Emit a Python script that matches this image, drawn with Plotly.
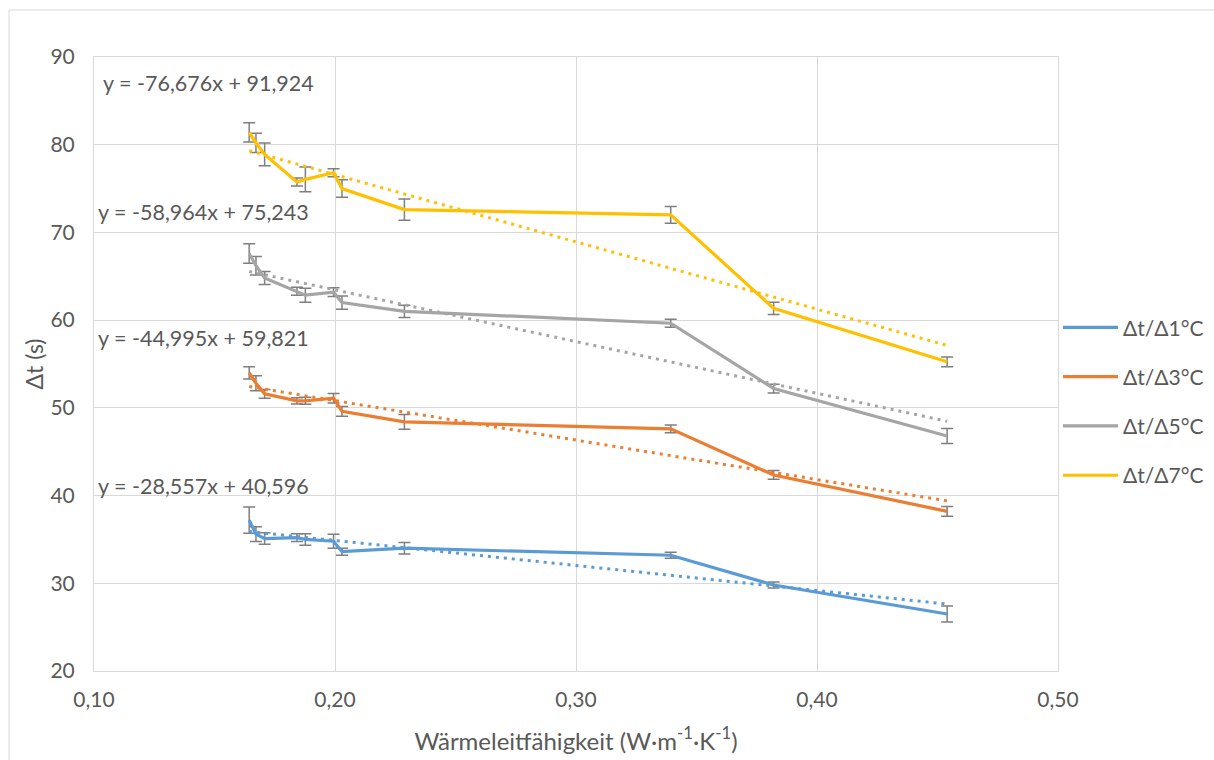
import plotly.graph_objects as go

# ---------------- data ----------------
conductivity = [0.1644, 0.1672, 0.1708, 0.1842, 0.1877, 0.1994, 0.2029, 0.2288, 0.3393, 0.3820, 0.4540]

series_names = ["Δt/Δ1°C", "Δt/Δ3°C", "Δt/Δ5°C", "Δt/Δ7°C"]

dt_1 = [37.2, 35.6, 35.1, 35.2, 35.0, 34.8, 33.6, 34.0, 33.2, 29.8, 26.5]
err_1 = [1.5, 0.85, 0.65, 0.45, 0.65, 0.8, 0.4, 0.65, 0.35, 0.35, 0.9]

dt_3 = [54.0, 52.8, 51.6, 50.8, 50.8, 51.1, 49.6, 48.4, 47.6, 42.35, 38.2]
err_3 = [0.7, 0.85, 0.5, 0.35, 0.4, 0.55, 0.55, 0.85, 0.45, 0.5, 0.55]

dt_5 = [67.6, 66.2, 64.8, 63.3, 62.85, 63.2, 62.0, 61.0, 59.65, 52.2, 46.8]
err_5 = [1.1, 1.05, 0.75, 0.45, 0.8, 0.5, 0.75, 0.7, 0.45, 0.5, 0.85]

dt_7 = [81.4, 80.2, 78.9, 75.75, 76.05, 76.8, 75.0, 72.6, 72.0, 61.35, 55.25]
err_7 = [1.1, 1.1, 1.3, 0.45, 1.4, 0.45, 1.0, 1.2, 0.95, 0.7, 0.55]

trend_slopes = [-28.557, -44.995, -58.964, -76.676]
trend_intercepts = [40.596, 59.821, 75.243, 91.924]

x_ticks = [0.10, 0.20, 0.30, 0.40, 0.50]
y_ticks = [20, 30, 40, 50, 60, 70, 80, 90]

# ---------------- styling ----------------
colors = ["#5B9BD5", "#ED7D31", "#A5A5A5", "#FFC000"]
text_color = "#595959"
grid_color = "#D9D9D9"
font_family = "Lato, 'Open Sans', sans-serif"
# equation label anchor positions (data coords)
label_pos = [(0.1010, 41.1), (0.1010, 58.0), (0.1010, 72.3), (0.1031, 87.0)]

values = [dt_1, dt_3, dt_5, dt_7]
errors = [err_1, err_3, err_5, err_7]

fig = go.Figure()

for i, name in enumerate(series_names):
    fig.add_trace(go.Scatter(
        x=conductivity, y=values[i], name=name, mode="lines",
        line=dict(color=colors[i], width=3.2),
        error_y=dict(type="data", array=errors[i], visible=True,
                     color="#7F7F7F", thickness=1.5, width=6),
        legendgroup=f"g{i}", showlegend=True,
    ))

for i, name in enumerate(series_names):
    xs = [min(conductivity), max(conductivity)]
    ys = [trend_slopes[i] * x + trend_intercepts[i] for x in xs]
    fig.add_trace(go.Scatter(
        x=xs, y=ys, mode="lines", showlegend=False, hoverinfo="skip",
        line=dict(color=colors[i], width=3, dash="3px,5px"),
    ))

for i in range(4):
    txt = f"y = {trend_slopes[i]:.3f}x + {trend_intercepts[i]:.3f}".replace(".", ",")
    fig.add_annotation(x=label_pos[i][0], y=label_pos[i][1], xref="x", yref="y",
                       text=txt, showarrow=False, xanchor="left", yanchor="middle",
                       font=dict(size=21.5, color=text_color, family=font_family))

# outer chart border
fig.add_shape(type="rect", xref="paper", yref="paper",
              x0=(9 - 94) / 964, x1=1.3, y0=-0.3, y1=(671 - 10) / 614,
              line=dict(color=grid_color, width=1), fillcolor="rgba(0,0,0,0)", layer="below")

fig.update_layout(
    width=1214, height=760,
    margin=dict(l=94, r=156, t=57, b=89, autoexpand=False),
    paper_bgcolor="white", plot_bgcolor="white",
    separators=",.",
    font=dict(family=font_family, color=text_color, size=20),
    showlegend=True,
    legend=dict(x=1.0, xanchor="left", y=0.4386, yanchor="middle",
                font=dict(size=21, color=text_color, family=font_family),
                itemwidth=55,
                tracegroupgap=19, bgcolor="rgba(0,0,0,0)"),
    xaxis=dict(range=[0.10, 0.50], tickvals=x_ticks, tickformat=".2f",
               showgrid=True, gridcolor=grid_color, gridwidth=1,
               showline=True, linecolor=grid_color, linewidth=1, mirror=True,
               zeroline=False, ticks="", ticklabelstandoff=10,
               tickfont=dict(size=21, color=text_color),
               title=dict(text="Wärmeleitfähigkeit (W·m<sup>-1</sup>·K<sup>-1</sup>)",
                          font=dict(size=24, color=text_color), standoff=22)),
    yaxis=dict(range=[20, 90], tickvals=y_ticks,
               showgrid=True, gridcolor=grid_color, gridwidth=1,
               showline=True, linecolor=grid_color, linewidth=1, mirror=True,
               zeroline=False, ticks="", ticklabelstandoff=14,
               tickfont=dict(size=21, color=text_color),
               title=dict(text="Δt (s)", font=dict(size=23, color=text_color), standoff=0)),
)

fig.write_html("out.html")
